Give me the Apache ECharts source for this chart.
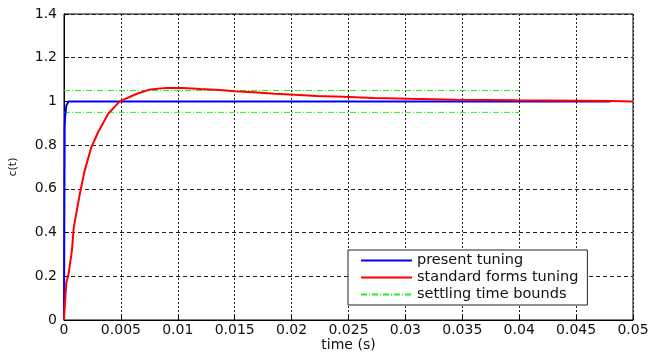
<!DOCTYPE html>
<html>
<head>
<meta charset="utf-8">
<script src="https://cdn.jsdelivr.net/npm/echarts@6/dist/echarts.min.js"></script>
<style>html,body{margin:0;padding:0;background:#fff}#c{width:649px;height:353px}</style>
</head>
<body>
<div id="c"></div>
<script>
// Data
var seriesNames = ['present tuning', 'standard forms tuning', 'settling time bounds'];
var xTicks = [0, 0.005, 0.01, 0.015, 0.02, 0.025, 0.03, 0.035, 0.04, 0.045, 0.05];
var yTicks = [0, 0.2, 0.4, 0.6, 0.8, 1, 1.2, 1.4];
var presentTuning = [[0,0],[0.00003,0.5],[0.00006,0.88],[0.0001,0.93],[0.0002,0.98],[0.0004,1.0],[0.048,1.0]];
var standardForms = [[0,0],[0.00005,0.05],[0.0002,0.17],[0.0004,0.21],[0.0007,0.32],[0.00085,0.42],[0.00105,0.48],
  [0.0014,0.58],[0.0018,0.68],[0.0024,0.79],[0.003,0.86],[0.0039,0.945],[0.0049,1.0],[0.0064,1.035],[0.0076,1.055],
  [0.009,1.062],[0.0105,1.062],[0.012,1.057],[0.0137,1.052],[0.015,1.047],[0.017,1.041],[0.0185,1.035],[0.0203,1.03],
  [0.0222,1.025],[0.0245,1.021],[0.0272,1.016],[0.0304,1.012],[0.0344,1.008],[0.0398,1.005],[0.048,1.002],[0.05,1.0]];
var upperBound = [[0,1.05],[0.04,1.05]];
var lowerBound = [[0,0.95],[0.04,0.95]];

var font = 'DejaVu Sans';
var txt = '#111';
var chart = echarts.init(document.getElementById('c'));
chart.setOption({
  animation: false,
  backgroundColor: '#fff',
  grid: {left: 64, right: 16, top: 14, bottom: 33, show: true, borderColor: '#000', borderWidth: 1,
    containLabel: false, outerBoundsMode: 'none'},
  xAxis: {
    type: 'value', min: 0, max: 0.05, interval: 0.005,
    name: 'time (s)', nameLocation: 'middle', nameGap: 18, nameMoveOverlap: false,
    nameTextStyle: {fontFamily: font, fontSize: 14, color: txt},
    axisLine: {show: true, lineStyle: {color: '#000', width: 1}},
    axisTick: {show: true, inside: true, length: 5, lineStyle: {color: '#000'}},
    axisLabel: {fontFamily: font, fontSize: 14, color: txt, margin: 3,
      formatter: function (v) { var m = xTicks.find(function (t) { return Math.abs(t - v) < 1e-9; }); return m === undefined ? '' : String(m); }},
    splitLine: {show: true, lineStyle: {color: '#222', width: 1, type: [2, 2]}}
  },
  yAxis: {
    type: 'value', min: 0, max: 1.4, interval: 0.2,
    name: 'c(t)', nameLocation: 'middle', nameGap: 45, nameRotate: 90, nameMoveOverlap: false,
    nameTextStyle: {fontFamily: font, fontSize: 11, color: txt},
    axisLine: {show: true, lineStyle: {color: '#000', width: 1}},
    axisTick: {show: true, inside: true, length: 5, lineStyle: {color: '#000'}},
    axisLabel: {fontFamily: font, fontSize: 14, color: txt, margin: 7,
      formatter: function (v) { var m = yTicks.find(function (t) { return Math.abs(t - v) < 1e-9; }); return m === undefined ? '' : String(m); }},
    splitLine: {show: true, lineStyle: {color: '#222', width: 1, type: [4, 3]}}
  },
  legend: {
    left: 348, top: 250, orient: 'vertical',
    backgroundColor: '#fff', borderColor: '#222', borderWidth: 1,
    padding: [3, 9, 3, 12], itemGap: 2, itemWidth: 51, itemHeight: 12,
    itemStyle: {opacity: 0},
    textStyle: {fontFamily: font, fontSize: 14.5, color: txt},
    data: seriesNames
  },
  series: [
    {name: seriesNames[0], type: 'line', data: presentTuning, showSymbol: false, symbol: 'none',
      lineStyle: {color: '#0000ff', width: 2}, itemStyle: {color: '#0000ff'}, z: 3},
    {name: seriesNames[1], type: 'line', data: standardForms, showSymbol: false, symbol: 'none',
      lineStyle: {color: '#ff0000', width: 2}, itemStyle: {color: '#ff0000'}, z: 4},
    {name: seriesNames[2], type: 'line', data: upperBound, showSymbol: false, symbol: 'none',
      lineStyle: {color: '#22ee22', width: 1, type: [6, 2, 1, 2]}, itemStyle: {color: '#22ee22'}, z: 2},
    {name: seriesNames[2], type: 'line', data: lowerBound, showSymbol: false, symbol: 'none',
      lineStyle: {color: '#22ee22', width: 1, type: [6, 2, 1, 2]}, itemStyle: {color: '#22ee22'}, z: 2}
  ]
});
</script>
</body>
</html>
